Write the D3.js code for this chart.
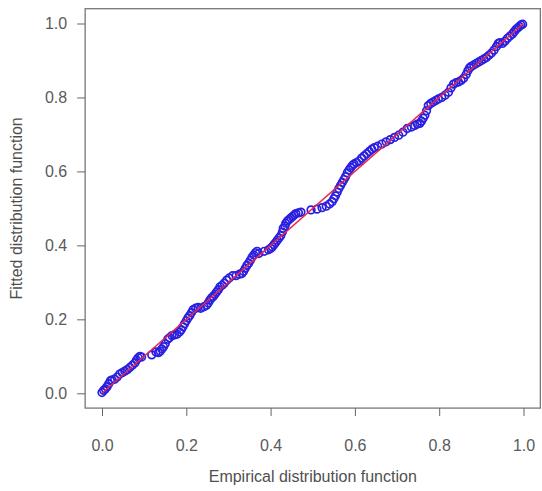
<!DOCTYPE html>
<html lang="en">
	<head>
		<meta charset="utf-8">
		<title>P-P plot</title>
		<script src="https://d3js.org/d3.v7.min.js"></script>
		<style type="text/css">
		body { margin: 0; background: white; }
		.axis text {
			font-family: "Liberation Sans", Arial, Helvetica, sans-serif;
			font-size: 16px;
			fill: #5a5a5a;
		}
		.axis line { stroke: #666; }
		.title {
			font-family: "Liberation Sans", Arial, Helvetica, sans-serif;
			font-size: 16px;
			fill: #4f4f4f;
			text-anchor: middle;
		}
		</style>
	</head>
	<body>
		<div id="chart"></div>
		<script type="text/javascript">

		// empirical probabilities (x) and fitted probabilities (y)
		var empirical = [
			0.000,0.004,0.008,0.012,0.016,0.020,0.024,0.030,0.036,0.042,0.048,0.054,0.060,0.066,0.072,0.078,0.082,0.086,0.090,0.094,
			0.118,0.128,0.134,0.138,0.142,0.146,0.150,0.156,
			0.160,0.166,0.172,0.178,0.184,0.188,0.192,0.196,0.200,0.204,0.208,0.212,0.216,0.222,0.228,0.234,
			0.242,0.248,0.252,0.256,0.260,0.264,0.268,0.272,0.276,0.280,0.285,0.290,0.296,0.302,0.310,
			0.318,0.326,0.332,0.336,0.340,0.344,0.348,0.352,0.356,0.360,0.364,0.368,0.372,0.385,0.395,
			0.400,0.404,0.408,0.412,0.416,0.420,0.424,0.428,0.430,0.434,0.436,0.440,0.444,0.448,0.452,0.456,0.460,0.466,0.472,
			0.496,0.510,0.522,0.532,0.540,
			0.546,0.550,0.554,0.558,0.562,0.566,0.570,0.574,0.578,0.582,0.586,0.590,0.594,0.598,0.604,0.610,0.616,0.622,0.628,0.634,0.640,0.646,
			0.654,0.664,0.674,0.684,0.694,0.704,0.714,0.724,0.734,
			0.742,0.748,0.754,0.758,0.762,0.766,0.770,0.774,0.780,0.786,0.792,0.798,
			0.806,0.814,0.822,0.828,0.834,0.840,0.846,0.852,0.858,0.864,0.868,0.872,0.876,0.882,0.888,0.894,0.900,0.906,
			0.912,0.918,0.924,0.930,0.936,0.940,0.944,0.950,0.956,0.962,0.968,0.974,0.978,0.982,0.986,0.990,0.994,0.998
		];
		var fitted = [
			0.002,0.008,0.012,0.018,0.026,0.034,0.036,0.038,0.044,0.052,0.056,0.060,0.064,0.070,0.076,0.082,0.090,0.096,0.100,0.098,
			0.104,0.112,0.110,0.114,0.120,0.126,0.134,0.146,
			0.150,0.156,0.158,0.160,0.166,0.172,0.180,0.188,0.196,0.204,0.210,0.218,0.226,0.230,0.232,0.230,
			0.234,0.238,0.244,0.252,0.258,0.262,0.268,0.274,0.280,0.288,0.292,0.298,0.306,0.312,0.318,
			0.318,0.322,0.324,0.330,0.338,0.346,0.352,0.360,0.368,0.374,0.380,0.384,0.378,0.384,0.388,
			0.392,0.396,0.402,0.408,0.414,0.420,0.426,0.436,0.446,0.452,0.460,0.466,0.470,0.474,0.478,0.482,0.486,0.488,0.490,
			0.496,0.498,0.502,0.506,0.512,
			0.518,0.526,0.534,0.544,0.554,0.562,0.570,0.578,0.586,0.596,0.604,0.610,0.616,0.620,0.624,0.628,0.636,0.642,0.648,0.654,0.660,0.664,
			0.668,0.674,0.680,0.686,0.692,0.698,0.706,0.716,0.720,
			0.724,0.728,0.730,0.736,0.744,0.752,0.764,0.778,0.784,0.788,0.792,0.796,
			0.800,0.806,0.814,0.826,0.836,0.840,0.842,0.846,0.852,0.862,0.872,0.880,0.884,0.888,0.892,0.896,0.900,0.904,
			0.908,0.914,0.920,0.928,0.938,0.946,0.948,0.946,0.952,0.960,0.966,0.972,0.978,0.984,0.988,0.992,0.996,0.998
		];
		var ticks = [0, 0.2, 0.4, 0.6, 0.8, 1.0];
		var diagonal = [0, 1];

		var w = 542;
		var h = 491;

		var xScale = d3.scaleLinear().domain([0, 1]).range([102, 523.5]);
		var yScale = d3.scaleLinear().domain([0, 1]).range([393.3, 23.5]);

		var svg = d3.select("#chart")
			.append("svg")
			.attr("width", w)
			.attr("height", h);

		// plot box (R style, 4% padding around the data range)
		var x0 = xScale(-0.04), x1 = xScale(1.04);
		var y0 = yScale(-0.04), y1 = yScale(1.04);
		svg.append("rect")
			.attr("x", x0)
			.attr("y", y1)
			.attr("width", x1 - x0)
			.attr("height", y0 - y1)
			.attr("fill", "none")
			.attr("stroke", "#777")
			.attr("stroke-width", 1.3);

		var pts = empirical.map(function(d, i) { return [d, fitted[i]]; });

		svg.append("g")
			.selectAll("circle")
			.data(pts)
			.enter()
			.append("circle")
			.attr("cx", function(d) { return xScale(d[0]); })
			.attr("cy", function(d) { return yScale(d[1]); })
			.attr("r", 3.8)
			.attr("fill", "none")
			.attr("stroke", "#2a1fe0")
			.attr("stroke-width", 1.7);

		// reference line y = x
		svg.append("line")
			.attr("x1", xScale(diagonal[0]))
			.attr("y1", yScale(diagonal[0]))
			.attr("x2", xScale(diagonal[1]))
			.attr("y2", yScale(diagonal[1]))
			.attr("stroke", "#e8284a")
			.attr("stroke-width", 1.5);

		var xAxis = d3.axisBottom(xScale)
			.tickValues(ticks)
			.tickFormat(d3.format(".1f"))
			.tickSizeInner(8)
			.tickSizeOuter(0)
			.tickPadding(24);

		var yAxis = d3.axisLeft(yScale)
			.tickValues(ticks)
			.tickFormat(d3.format(".1f"))
			.tickSizeInner(8)
			.tickSizeOuter(0)
			.tickPadding(10);

		svg.append("g")
			.attr("class", "x axis")
			.attr("transform", "translate(0," + y0 + ")")
			.call(xAxis)
			.call(function(g) { g.select(".domain").remove(); });

		svg.append("g")
			.attr("class", "y axis")
			.attr("transform", "translate(" + x0 + ",0)")
			.call(yAxis)
			.call(function(g) { g.select(".domain").remove(); });

		// axis titles
		svg.append("text")
			.attr("class", "title")
			.attr("x", (xScale(0) + xScale(1)) / 2)
			.attr("y", 482)
			.text("Empirical distribution function");

		svg.append("text")
			.attr("class", "title")
			.attr("transform", "translate(22," + (yScale(0) + yScale(1)) / 2 + ") rotate(-90)")
			.text("Fitted distribution function");

		</script>
	</body>
</html>
